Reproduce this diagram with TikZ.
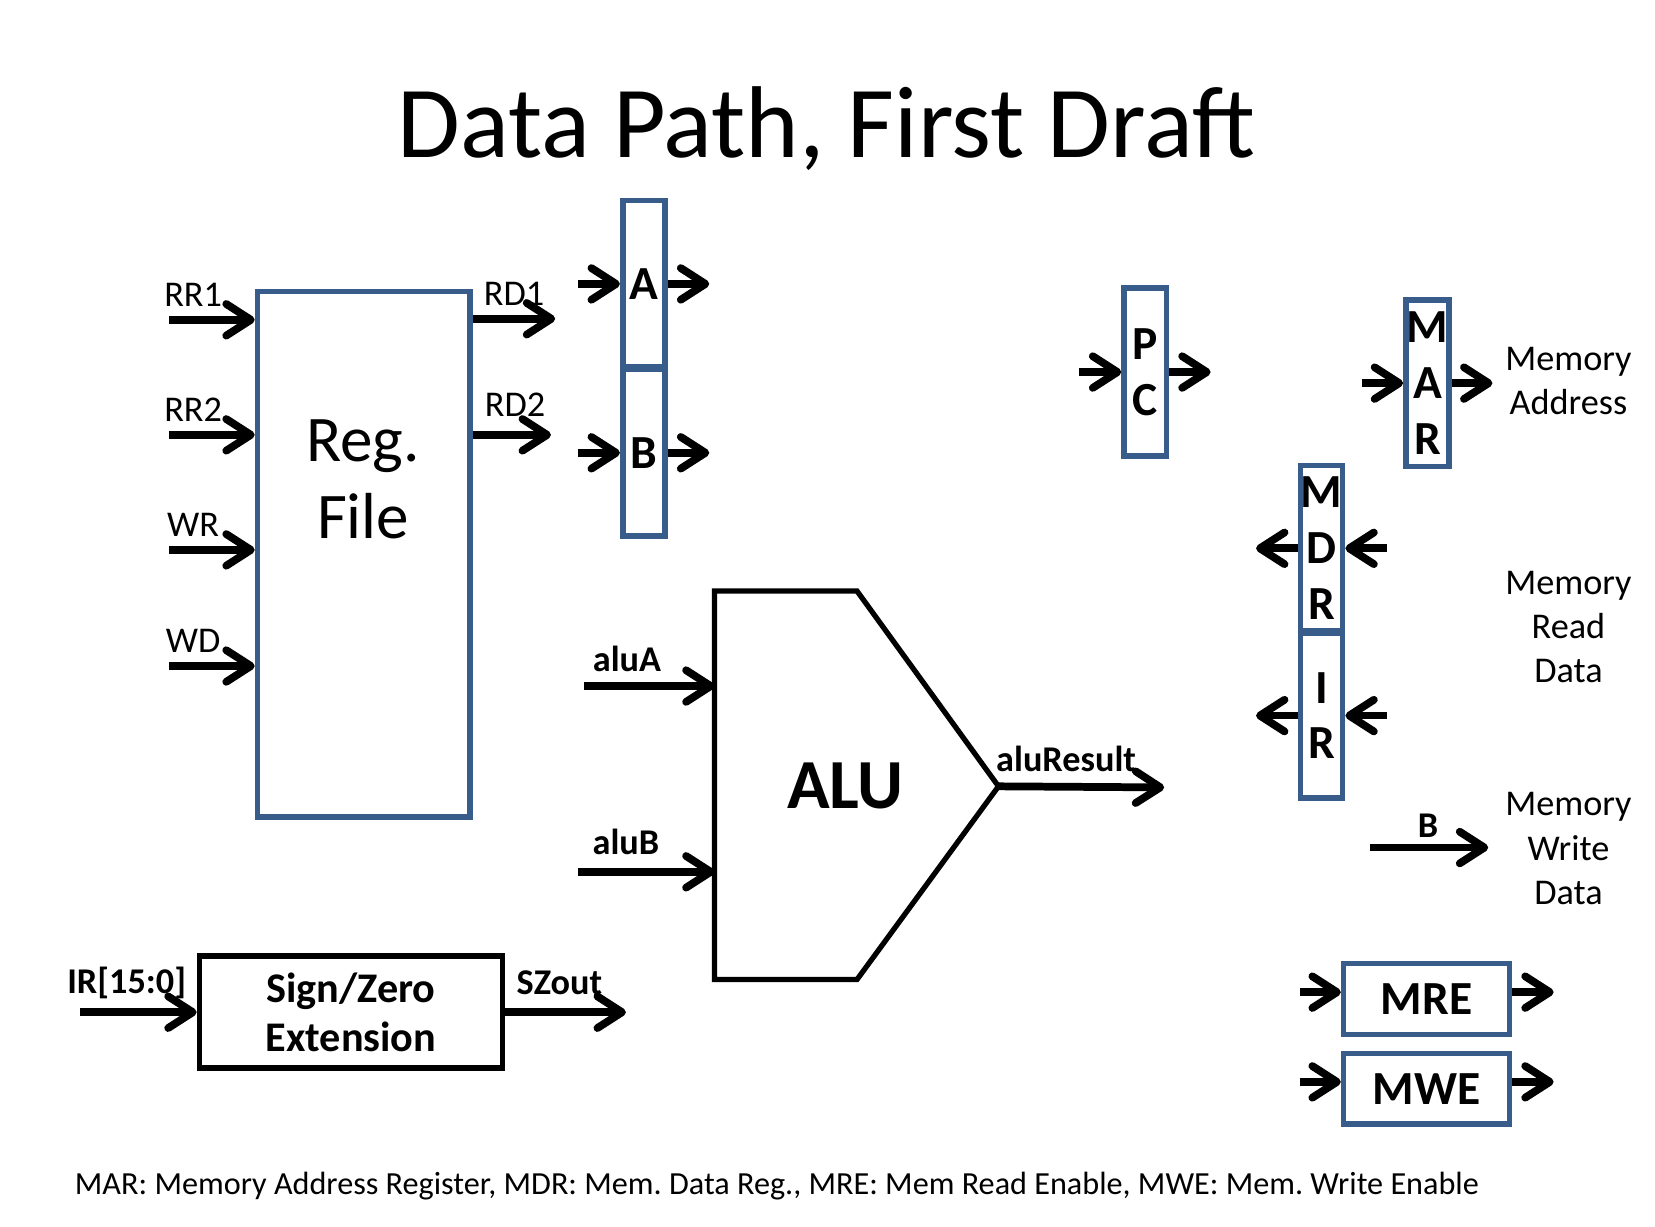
\documentclass[tikz,border=0pt]{standalone}
\usepackage{fontspec}
\setmainfont{Carlito}
\usepackage{tikz}
\usetikzlibrary{arrows.meta}
\definecolor{regblue}{RGB}{56,93,138}
\frenchspacing

\begin{document}
\begin{tikzpicture}[x=0.3pt,y=-0.3pt,
  reg/.style={draw=regblue, line width=1.6pt, fill=white, inner sep=0pt, align=center,
    minimum width=12pt, minimum height=47.4pt, font=\bfseries\fontsize{13.5}{15.9}\selectfont},
  enable/.style={reg, minimum width=47.1pt, minimum height=20.1pt},
  blk/.style={draw, line width=1.6pt},
  arr/.style={-{Straight Barb[length=7pt,width=9pt,round]}, line width=2.2pt},
  note/.style={align=center, font=\fontsize{10.3}{12.6}\selectfont},
  bnote/.style={align=center, font=\bfseries\fontsize{10.3}{12.6}\selectfont}]
  \useasboundingbox (0,0) rectangle (1568,1162);
  \node[font=\fontsize{29}{34}\selectfont] (title) at (783,122) {Data Path, First Draft};

  % register file
  \node[reg, minimum width=60.3pt, minimum height=149.4pt] (rf) at (344.5,525) {};
  \node[align=center, font=\fontsize{18.5}{22}\selectfont] (rft) at (344,454) {Reg.\\File};
  \foreach \nm/\txt/\yy in {rr1/RR1/303, rr2/RR2/412, wr/WR/521, wd/WD/631} {
    \coordinate (\nm) at (160,\yy);
    \node[note] (l\nm) at (183,\yy-24) {\txt};
    \draw[arr] (\nm) -- (\nm -| rf.west);
  }
  \coordinate (rd1) at (526,302);
  \coordinate (rd2) at (522,412);
  \draw[arr] (rd1 -| rf.east) -- (rd1);
  \draw[arr] (rd2 -| rf.east) -- (rd2);
  \node[note] (lrd1) at (487,278) {RD1};
  \node[note] (lrd2) at (488,383) {RD2};

  % A and B
  \node[reg] (a) at (610,269) {A};
  \node[reg] (b) at (610,429) {B};
  \coordinate (ain) at (548,269);
  \coordinate (aout) at (672,269);
  \coordinate (bin) at (548,429);
  \coordinate (bout) at (672,429);
  \draw[arr] (ain) -- (a.west);
  \draw[arr] (a.east) -- (aout);
  \draw[arr] (bin) -- (b.west);
  \draw[arr] (b.east) -- (bout);

  % PC and MAR
  \node[reg, minimum height=47.7pt] (pc) at (1085,352.5) {P\\C};
  \coordinate (pcin) at (1022,352.5);
  \coordinate (pcout) at (1147,352.5);
  \draw[arr] (pcin) -- (pc.west);
  \draw[arr] (pc.east) -- (pcout);
  \node[reg, minimum width=12.3pt] (mar) at (1352.5,363) {M\\A\\R};
  \coordinate (marin) at (1290,363);
  \coordinate (marout) at (1414,363);
  \draw[arr] (marin) -- (mar.west);
  \draw[arr] (mar.east) -- (marout);
  \node[note] (memaddr) at (1486,361) {Memory\\Address};

  % MDR and IR
  \node[reg, minimum height=47.1pt] (mdr) at (1252,519.5) {M\\D\\R};
  \node[reg, minimum height=46.8pt] (ir) at (1252,678) {I\\R};
  \coordinate (mdrin) at (1314,519.5);
  \coordinate (mdrout) at (1190,519.5);
  \coordinate (irin) at (1314,678);
  \coordinate (irout) at (1190,678);
  \draw[arr] (mdrin) -- (mdr.east);
  \draw[arr] (mdr.west) -- (mdrout);
  \draw[arr] (irin) -- (ir.east);
  \draw[arr] (ir.west) -- (irout);
  \node[note] (memread) at (1486,594) {Memory\\Read\\Data};

  % write data
  \coordinate (wdin) at (1298,803);
  \coordinate (wdout) at (1410,803);
  \draw[arr] (wdin) -- (wdout);
  \node[bnote] (lwd) at (1353,782) {B};
  \node[note] (memwrite) at (1486,804) {Memory\\Write\\Data};

  % enables
  \node[enable] (mre) at (1351.5,946.5) {MRE};
  \node[enable] (mwe) at (1351.5,1031.5) {MWE};
  \coordinate (mrein) at (1232,940);
  \coordinate (mreout) at (1472,940);
  \coordinate (mwein) at (1232,1025);
  \coordinate (mweout) at (1472,1025);
  \draw[arr] (mrein) -- (mrein -| mre.west);
  \draw[arr] (mreout -| mre.east) -- (mreout);
  \draw[arr] (mwein) -- (mwein -| mwe.west);
  \draw[arr] (mweout -| mwe.east) -- (mweout);

  % ALU
  \draw[line width=1.5pt] (677,560) coordinate (alunw) -- (812,560) -- (946,745) coordinate (aluout)
    -- (812,928) -- (677,928) -- cycle;
  \node[font=\bfseries\fontsize{20}{24}\selectfont] (alu) at (801,745) {ALU};
  \coordinate (alua) at (553,650);
  \coordinate (alub) at (548,826);
  \coordinate (alur) at (1103,746);
  \draw[arr] (alua) -- (alua -| alunw);
  \draw[arr] (alub) -- (alub -| alunw);
  \draw[arr] (aluout) -- (alur);
  \node[bnote] (lalua) at (594,624) {aluA};
  \node[bnote] (lalub) at (593,798) {aluB};
  \node[bnote] (lalur) at (1010,719) {aluResult};

  % sign/zero extension
  \node[blk, minimum width=86.1pt, minimum height=31.8pt, align=center,
    font=\bfseries\fontsize{12}{14.1}\selectfont] (sze) at (332.5,959) {Sign/Zero\\Extension};
  \coordinate (irbits) at (76,959);
  \coordinate (szout) at (593,959);
  \draw[arr] (irbits) -- (sze.west);
  \draw[arr] (sze.east) -- (szout);
  \node[bnote] (lirbits) at (120,931) {IR[15:0]};
  \node[bnote] (lszout) at (530,931) {SZout};

  \node[font=\fontsize{9.15}{11}\selectfont] (foot) at (736,1124)
    {MAR: Memory Address Register, MDR: Mem. Data Reg., MRE: Mem Read Enable, MWE: Mem. Write Enable};
\end{tikzpicture}
\end{document}
